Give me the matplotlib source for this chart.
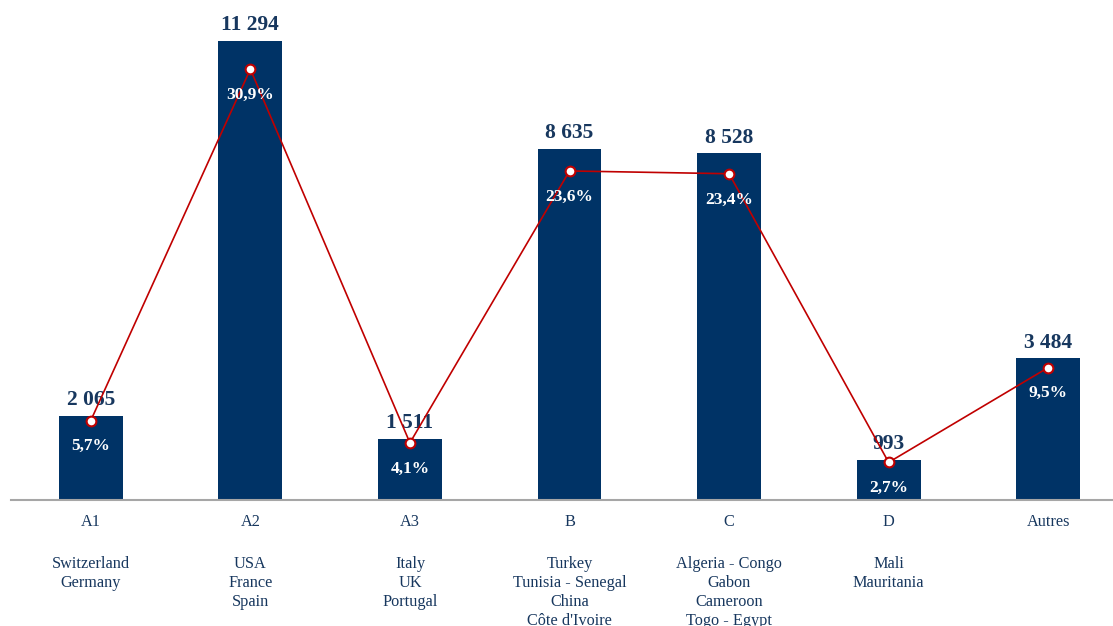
import matplotlib
matplotlib.use("Agg")
import matplotlib.pyplot as plt
import matplotlib.transforms as mtransforms

plt.rcParams['font.family'] = ['Liberation Serif', 'DejaVu Serif']

# Données
categories = ["A1", "A2", "A3", "B", "C", "D", "Autres"]
pays = [
    "Switzerland\nGermany",
    "USA\nFrance\nSpain",
    "Italy\nUK\nPortugal",
    "Turkey\nTunisia - Senegal\nChina\nCôte d'Ivoire",
    "Algeria - Congo\nGabon\nCameroon\nTogo - Egypt",
    "Mali\nMauritania",
    "",
]
valeurs = [2065, 11294, 1511, 8635, 8528, 993, 3484]
labels_valeurs = ["2 065", "11 294", "1 511", "8 635", "8 528", "993", "3 484"]
parts = [5.7, 30.9, 4.1, 23.6, 23.4, 2.7, 9.5]
labels_parts = ["5,7%", "30,9%", "4,1%", "23,6%", "23,4%", "2,7%", "9,5%"]

navy = "#003366"
texte = "#17375E"
rouge = "#C00000"

fig = plt.figure(figsize=(11.13, 6.26), dpi=100)
ax = fig.add_axes([11 / 1113, 1 - 500 / 626, 1117 / 1113, 488 / 626])
x = list(range(len(categories)))

ax.bar(x, valeurs, width=0.40, color=navy, zorder=2)
ax.set_xlim(-0.5, 6.5)
ax.set_ylim(0, 12000)
ax.set_yticks([])
ax.set_xticks([])
for s in ["top", "right", "left"]:
    ax.spines[s].set_visible(False)
ax.spines["bottom"].set_color("#A6A6A6")
ax.spines["bottom"].set_linewidth(1.5)

for xi, v, lab in zip(x, valeurs, labels_valeurs):
    ax.annotate(lab, (xi, v), xytext=(0, 4), textcoords="offset points",
                ha="center", va="bottom", fontsize=15.5, fontweight="bold",
                color=texte, zorder=3)

# Libellés de l'axe X
trans = mtransforms.blended_transform_factory(ax.transData, fig.transFigure)
for xi, cat, p in zip(x, categories, pays):
    ax.text(xi, 1 - 522 / 626, cat, transform=trans, ha="center", va="center",
            fontsize=11.7, color=texte)
    if p:
        ax.text(xi, 1 - 556 / 626, p, transform=trans, ha="center", va="top",
                fontsize=11.7, color=texte, linespacing=1.26)

# Axe secondaire pour les parts
ax2 = ax.twinx()
ax2.set_ylim(0, 35)
ax2.set_yticks([])
for s in ["top", "right", "left", "bottom"]:
    ax2.spines[s].set_visible(False)
ax2.plot(x, parts, color=rouge, linewidth=1.2, marker="o", markersize=7,
         markerfacecolor="white", markeredgecolor=rouge, markeredgewidth=1.5,
         zorder=5)
for xi, p, lab in zip(x, parts, labels_parts):
    ax2.annotate(lab, (xi, p), xytext=(0, -18.5), textcoords="offset points",
                 ha="center", va="center", fontsize=12.5, fontweight="bold",
                 color="white", zorder=6)

fig.savefig("out.png", dpi=100)
